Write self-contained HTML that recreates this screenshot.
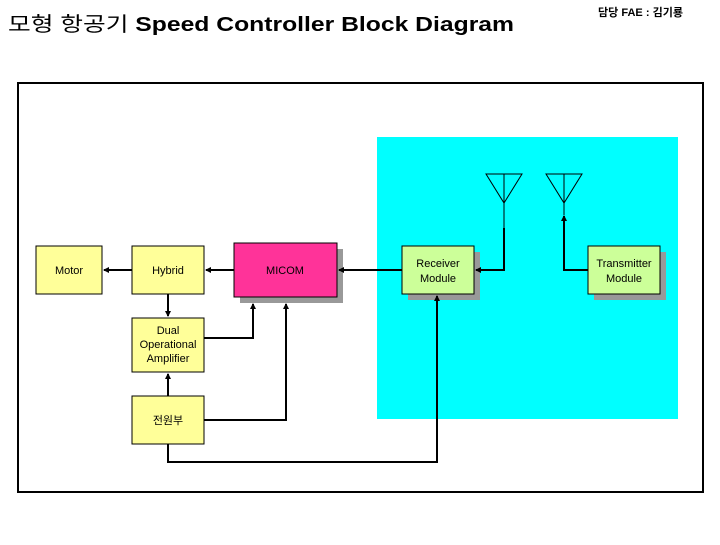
<!DOCTYPE html>
<html><head><meta charset="utf-8"><style>
body{margin:0;width:720px;height:540px;background:#fff;overflow:hidden;font-family:"Liberation Sans","Noto Sans CJK KR",sans-serif}
</style></head><body>
<svg width="720" height="540" xmlns="http://www.w3.org/2000/svg" font-family="Liberation Sans, Noto Sans CJK KR, sans-serif">
<defs><marker id="a" markerWidth="6" markerHeight="6" refX="5" refY="3" orient="auto" markerUnits="userSpaceOnUse"><path d="M0,0 L6,3 L0,6z" fill="#000"/></marker></defs>
<text x="8" y="31" font-size="20" font-weight="bold" fill="#000" textLength="506" lengthAdjust="spacingAndGlyphs"><tspan font-weight="normal">모형 항공기</tspan> Speed Controller  Block Diagram</text>
<text x="598" y="16" font-size="11" font-weight="bold" textLength="85" lengthAdjust="spacingAndGlyphs">담당 FAE : 김기룡</text>
<rect x="18" y="83" width="685" height="409" fill="#fff" stroke="#000" stroke-width="2"/>
<rect x="377" y="137" width="301" height="282" fill="#00ffff"/>
<g stroke="#000" fill="none" stroke-width="1">
<path d="M486,174 L522,174 L504,203 Z M504,174 L504,228"/>
<path d="M546,174 L582,174 L564,203 Z M564,174 L564,215"/>
</g>
<!-- shadows -->
<rect x="240" y="249" width="103" height="54" fill="#999"/>
<rect x="408" y="252" width="72" height="48" fill="#999"/>
<rect x="594" y="252" width="72" height="48" fill="#999"/>
<g stroke="#000" stroke-width="2" fill="none">
<path d="M504,228 L504,270 L476,270" marker-end="url(#a)"/>
<path d="M588,270 L564,270 L564,216" marker-end="url(#a)"/>
<path d="M402,270 L339,270" marker-end="url(#a)"/>
<path d="M234,270 L206,270" marker-end="url(#a)"/>
<path d="M132,270 L104,270" marker-end="url(#a)"/>
<path d="M168,294 L168,316" marker-end="url(#a)"/>
<path d="M168,396 L168,374" marker-end="url(#a)"/>
<path d="M204,338 L253,338 L253,304" marker-end="url(#a)"/>
<path d="M204,420 L286,420 L286,304" marker-end="url(#a)"/>
<path d="M168,444 L168,462 L437,462 L437,296" marker-end="url(#a)"/>
</g>
<g stroke="#000" stroke-width="1">
<rect x="36" y="246" width="66" height="48" fill="#ffff99"/>
<rect x="132" y="246" width="72" height="48" fill="#ffff99"/>
<rect x="132" y="318" width="72" height="54" fill="#ffff99"/>
<rect x="132" y="396" width="72" height="48" fill="#ffff99"/>
<rect x="234" y="243" width="103" height="54" fill="#ff3399"/>
<rect x="402" y="246" width="72" height="48" fill="#ccff99"/>
<rect x="588" y="246" width="72" height="48" fill="#ccff99"/>
</g>
<g font-size="11" text-anchor="middle" fill="#000">
<text x="69" y="274">Motor</text>
<text x="168" y="274">Hybrid</text>
<text x="168" y="334">Dual</text>
<text x="168" y="348">Operational</text>
<text x="168" y="362">Amplifier</text>
<text x="168" y="424">전원부</text>
<text x="285" y="274">MICOM</text>
<text x="438" y="267">Receiver</text>
<text x="438" y="282">Module</text>
<text x="624" y="267">Transmitter</text>
<text x="624" y="282">Module</text>
</g>
</svg>
</body></html>
